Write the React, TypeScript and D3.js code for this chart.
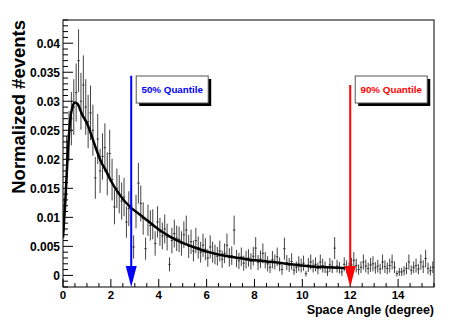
import React, { useEffect, useRef } from 'react';
import * as d3 from 'd3';

// histogram: bin width 0.1 deg, starting at 0
const binWidth = 0.1;
const values: number[] = [
  0.0105, 0.020, 0.024, 0.027, 0.029, 0.0315, 0.037, 0.030, 0.0328, 0.029,
  0.0265, 0.028, 0.025, 0.0168, 0.0235, 0.018, 0.0205, 0.022, 0.0175, 0.021,
  0.0165, 0.0118, 0.015, 0.014, 0.0128, 0.0135, 0.0092, 0.0115, 0.012, 0.0049,
  0.011, 0.0159, 0.0124, 0.0098, 0.0046, 0.0095, 0.0086, 0.0088, 0.0055, 0.0092,
  0.0075, 0.0068, 0.008, 0.0066, 0.0019, 0.006, 0.0072, 0.0064, 0.0062, 0.0055,
  0.007, 0.0078, 0.005, 0.0058, 0.0042, 0.006, 0.0048, 0.004, 0.0052, 0.0045,
  0.003, 0.0049, 0.004, 0.0036, 0.0033, 0.0042, 0.0028, 0.0038, 0.0052, 0.0031,
  0.0034, 0.0078, 0.0029, 0.0025, 0.0032, 0.0021, 0.0027, 0.003, 0.0024, 0.0033,
  0.0047, 0.0022, 0.0028, 0.0038, 0.0026, 0.002, 0.0014, 0.0027, 0.0023, 0.0032,
  0.0019, 0.001, 0.0046, 0.0022, 0.0018, 0.0024, 0.0009, 0.0014, 0.002, 0.0017,
  0.0021, 0.0003, 0.0018, 0.0023, 0.0016, 0.0019, 0.0012, 0.0023, 0.0017, 0.0014,
  0.0006, 0.0018, 0.0015, 0.0047, 0.0016, 0.0013, 0.0006, 0.0019, 0.0015, 0.0012,
  0.0018, 0.0026, 0.0017, 0.001, 0.0014, 0.0023, 0.0016, 0.0012, 0.0018, 0.002,
  0.0013, 0.0016, 0.0011, 0.0023, 0.0015, 0.0012, 0.0017, 0.0023, 0.0014, 0.0003,
  0.0006, 0.0006, 0.0008, 0.0012, 0.0023, 0.0009, 0.0014, 0.0017, 0.0011, 0.0023,
  0.0015, 0.0029, 0.0012, 0.0008, 0.0014
];
const errors: number[] = [
  0.0029, 0.0040, 0.0043, 0.0046, 0.0048, 0.0050, 0.0054, 0.0049, 0.0051, 0.0048,
  0.0046, 0.0047, 0.0044, 0.0036, 0.0043, 0.0038, 0.0040, 0.0042, 0.0037, 0.0041,
  0.0036, 0.0030, 0.0034, 0.0033, 0.0032, 0.0033, 0.0027, 0.0030, 0.0031, 0.0020,
  0.0029, 0.0035, 0.0031, 0.0028, 0.0019, 0.0027, 0.0026, 0.0026, 0.0021, 0.0027,
  0.0024, 0.0023, 0.0025, 0.0023, 0.0012, 0.0022, 0.0024, 0.0022, 0.0022, 0.0021,
  0.0023, 0.0025, 0.0020, 0.0021, 0.0018, 0.0022, 0.0019, 0.0018, 0.0020, 0.0019,
  0.0015, 0.0020, 0.0018, 0.0017, 0.0016, 0.0018, 0.0015, 0.0017, 0.0020, 0.0016,
  0.0016, 0.0025, 0.0015, 0.0014, 0.0016, 0.0013, 0.0015, 0.0015, 0.0014, 0.0016,
  0.0019, 0.0013, 0.0015, 0.0017, 0.0014, 0.0013, 0.0010, 0.0015, 0.0013, 0.0016,
  0.0012, 0.0009, 0.0019, 0.0013, 0.0012, 0.0014, 0.0008, 0.0010, 0.0013, 0.0012,
  0.0013, 0.0005, 0.0012, 0.0013, 0.0011, 0.0012, 0.0010, 0.0013, 0.0012, 0.0010,
  0.0007, 0.0012, 0.0011, 0.0019, 0.0011, 0.0010, 0.0007, 0.0012, 0.0011, 0.0010,
  0.0012, 0.0014, 0.0012, 0.0009, 0.0010, 0.0013, 0.0011, 0.0010, 0.0012, 0.0013,
  0.0010, 0.0011, 0.0009, 0.0013, 0.0011, 0.0010, 0.0012, 0.0013, 0.0010, 0.0005,
  0.0007, 0.0007, 0.0008, 0.0010, 0.0013, 0.0008, 0.0010, 0.0012, 0.0009, 0.0013,
  0.0011, 0.0015, 0.0010, 0.0008, 0.0010
];

// fitted curve
const fitX = [0, 0.1, 0.2, 0.3, 0.4, 0.5, 0.6, 0.8, 1.0, 1.2, 1.4, 1.6, 1.8, 2.0, 2.4, 2.8, 3.2, 3.6, 4.0, 4.5, 5.0, 5.5, 6.0, 6.5, 7.0, 7.5, 8.0, 8.5, 9.0, 9.5, 10.0, 10.5, 11.0, 11.5, 11.8];
const fitY = [0.0065, 0.013, 0.021, 0.0268, 0.0291, 0.0298, 0.0296, 0.0277, 0.0262, 0.0240, 0.0216, 0.0195, 0.0180, 0.0163, 0.0137, 0.0118, 0.0105, 0.0092, 0.0079, 0.0066, 0.0056, 0.0048, 0.0041, 0.0036, 0.0032, 0.0029, 0.0026, 0.0024, 0.0022, 0.0019, 0.0017, 0.0015, 0.0014, 0.0013, 0.00125];

// quantile markers
const quantileLabels = ['50% Quantile', '90% Quantile'];
const quantileX = [2.85, 12.0];
const quantileTop = [0.0344, 0.0328];
const quantileColors = ['#0000ff', '#ff0000'];

const xTicks = [0, 2, 4, 6, 8, 10, 12, 14];
const yTicks = [0, 0.005, 0.01, 0.015, 0.02, 0.025, 0.03, 0.035, 0.04];
const yTickLabels = ['0', '0.005', '0.01', '0.015', '0.02', '0.025', '0.03', '0.035', '0.04'];

const W = 463, H = 335;
const FONT = '"Liberation Sans", Arial, Helvetica, sans-serif';

export default function App() {
  const ref = useRef<SVGSVGElement>(null);

  useEffect(() => {
    const svg = d3.select(ref.current);
    svg.selectAll('*').remove();

    const left = 63, right = 434, top = 20, bottom = 287;
    const x = d3.scaleLinear().domain([0, 15.5]).range([left, right]);
    const y = d3.scaleLinear().domain([-0.002, 0.044]).range([bottom, top]);

    svg.append('rect').attr('width', W).attr('height', H).attr('fill', '#fff');

    svg.append('defs').append('clipPath').attr('id', 'plotclip')
      .append('rect').attr('x', left).attr('y', top)
      .attr('width', right - left).attr('height', bottom - top);

    // error bars
    const bins = values.map((v, i) => ({ c: (i + 0.5) * binWidth, v, e: errors[i] }));
    const g = svg.append('g').attr('clip-path', 'url(#plotclip)');
    const pts = g.selectAll('.pt').data(bins).enter().append('g').attr('class', 'pt');
    pts.append('line')
      .attr('x1', d => x(d.c)).attr('x2', d => x(d.c))
      .attr('y1', d => y(d.v - d.e)).attr('y2', d => y(d.v + d.e))
      .attr('stroke', '#222').attr('stroke-width', 0.85);
    pts.append('line')
      .attr('x1', d => x(d.c - binWidth / 2)).attr('x2', d => x(d.c + binWidth / 2))
      .attr('y1', d => y(d.v)).attr('y2', d => y(d.v))
      .attr('stroke', '#222').attr('stroke-width', 0.85);

    // fit
    const line = d3.line<number>()
      .x((d, i) => x(fitX[i]))
      .y(d => y(d))
      .curve(d3.curveMonotoneX);
    g.append('path').attr('d', line(fitY))
      .attr('fill', 'none').attr('stroke', '#000').attr('stroke-width', 2.5);

    // frame
    svg.append('rect').attr('x', left).attr('y', top)
      .attr('width', right - left).attr('height', bottom - top)
      .attr('fill', 'none').attr('stroke', '#000').attr('stroke-width', 1);

    // x ticks
    const xa = svg.append('g');
    d3.range(0, 15.51, 0.5).forEach(t => {
      const major = xTicks.includes(t);
      xa.append('line').attr('x1', x(t)).attr('x2', x(t))
        .attr('y1', bottom).attr('y2', bottom - (major ? 8 : 4))
        .attr('stroke', '#000').attr('stroke-width', 1);
    });
    xa.selectAll('text').data(xTicks).enter().append('text')
      .attr('x', d => x(d)).attr('y', bottom + 12)
      .attr('text-anchor', 'middle')
      .attr('font-family', FONT).attr('font-weight', 'bold').attr('font-size', 11.5)
      .text(d => d);

    // y ticks
    const ya = svg.append('g');
    d3.range(-2, 45).forEach(k => {
      const t = k * 0.001;
      const major = k % 5 === 0;
      ya.append('line').attr('x1', left).attr('x2', left + (major ? 10 : 5))
        .attr('y1', y(t)).attr('y2', y(t))
        .attr('stroke', '#000').attr('stroke-width', 1);
    });
    ya.selectAll('text').data(yTicks).enter().append('text')
      .attr('x', left - 3).attr('y', d => y(d) + 4.5)
      .attr('text-anchor', 'end')
      .attr('font-family', FONT).attr('font-weight', 'bold').attr('font-size', 12)
      .text((d, i) => yTickLabels[i]);

    // axis titles
    svg.append('text')
      .attr('transform', `translate(25,${top}) rotate(-90)`)
      .attr('text-anchor', 'end')
      .attr('font-family', FONT).attr('font-weight', 'bold').attr('font-size', 18.5)
      .text('Normalized #events');
    svg.append('text')
      .attr('x', right).attr('y', 313.5)
      .attr('text-anchor', 'end')
      .attr('font-family', FONT).attr('font-weight', 'bold').attr('font-size', 12.5)
      .text('Space Angle (degree)');

    // quantile arrows and labels
    quantileX.forEach((q, i) => {
      const col = quantileColors[i];
      const ax = x(q);
      svg.append('line').attr('x1', ax).attr('x2', ax)
        .attr('y1', y(quantileTop[i])).attr('y2', bottom - 18)
        .attr('stroke', col).attr('stroke-width', 2);
      svg.append('path')
        .attr('d', `M${ax - 5.5},${bottom - 21} L${ax + 5.5},${bottom - 21} L${ax},${bottom} Z`)
        .attr('fill', col);

      const bx = ax + 5, by = 76, bw = 72, bh = 27;
      svg.append('rect').attr('x', bx + 3).attr('y', by + 3).attr('width', bw).attr('height', bh)
        .attr('fill', '#000');
      svg.append('rect').attr('x', bx).attr('y', by).attr('width', bw).attr('height', bh)
        .attr('fill', '#fff').attr('stroke', '#555').attr('stroke-width', 1);
      svg.append('text')
        .attr('x', bx + bw / 2).attr('y', by + bh / 2 + 3.5)
        .attr('text-anchor', 'middle')
        .attr('font-family', FONT).attr('font-weight', 'bold').attr('font-size', 9.8)
        .attr('fill', col)
        .text(quantileLabels[i]);
    });
  }, []);

  return (
    <svg ref={ref} width={W} height={H}
      style={{ position: 'absolute', left: 0, top: 0, display: 'block' }} />
  );
}
